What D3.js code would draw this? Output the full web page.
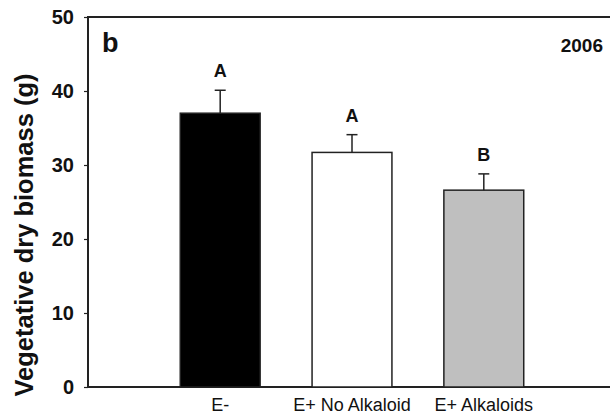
<!DOCTYPE html>
<html>
<head>
<meta charset="utf-8">
<script src="https://cdn.jsdelivr.net/npm/d3@7"></script>
<style>
  body { margin: 0; background: #fff; }
  svg { display: block; font-family: "Liberation Sans", Arial, sans-serif; }
</style>
</head>
<body>
<script>
var categories = ["E-", "E+ No Alkaloid", "E+ Alkaloids"];
var biomass = [37.0, 31.7, 26.6];
var stdErr = [3.1, 2.4, 2.2];
var groups = ["A", "A", "B"];
var barFill = ["#000000", "#ffffff", "#bfbfbf"];
var yTicks = [0, 10, 20, 30, 40, 50];

var w = 610;
var h = 416;

var svg = d3.select("body").append("svg")
  .attr("width", w)
  .attr("height", h);

var x = d3.scaleBand()
  .domain(categories)
  .range([88, 616])
  .paddingInner(0.394)
  .paddingOuter(0.70);

var y = d3.scaleLinear()
  .domain([0, 50])
  .range([387, 17]);

// frame (right side runs off the picture)
svg.append("rect")
  .attr("x", 88)
  .attr("y", y(50))
  .attr("width", 616 - 88)
  .attr("height", y(0) - y(50))
  .style("fill", "none")
  .style("stroke", "#222")
  .style("stroke-width", 2);

svg.selectAll("rect.bar")
  .data(biomass)
  .enter().append("rect")
  .attr("class", "bar")
  .attr("x", function(d, i) { return x(categories[i]); })
  .attr("y", function(d) { return y(d); })
  .attr("width", x.bandwidth())
  .attr("height", function(d) { return y(0) - y(d); })
  .style("fill", function(d, i) { return barFill[i]; })
  .style("stroke", "#222")
  .style("stroke-width", 1.5);

// error bars (upper only)
svg.selectAll("line.err")
  .data(biomass)
  .enter().append("line")
  .attr("class", "err")
  .attr("x1", function(d, i) { return x(categories[i]) + x.bandwidth() / 2; })
  .attr("x2", function(d, i) { return x(categories[i]) + x.bandwidth() / 2; })
  .attr("y1", function(d) { return y(d); })
  .attr("y2", function(d, i) { return y(d + stdErr[i]); })
  .style("stroke", "#222")
  .style("stroke-width", 1.5);

svg.selectAll("line.cap")
  .data(biomass)
  .enter().append("line")
  .attr("class", "cap")
  .attr("x1", function(d, i) { return x(categories[i]) + x.bandwidth() / 2 - 5.5; })
  .attr("x2", function(d, i) { return x(categories[i]) + x.bandwidth() / 2 + 5.5; })
  .attr("y1", function(d, i) { return y(d + stdErr[i]); })
  .attr("y2", function(d, i) { return y(d + stdErr[i]); })
  .style("stroke", "#222")
  .style("stroke-width", 1.5);

svg.selectAll("text.grp")
  .data(groups)
  .enter().append("text")
  .attr("class", "grp")
  .attr("x", function(d, i) { return x(categories[i]) + x.bandwidth() / 2; })
  .attr("y", function(d, i) { return y(biomass[i] + stdErr[i]) - 13; })
  .attr("text-anchor", "middle")
  .style("font-size", "18px")
  .style("font-weight", "bold")
  .style("fill", "#111")
  .text(function(d) { return d; });

// y axis
var yAxis = svg.append("g")
  .attr("transform", "translate(88,0)")
  .call(d3.axisLeft(y).tickValues(yTicks).tickSize(4).tickPadding(10));
yAxis.select(".domain").remove();
yAxis.selectAll("line").style("stroke", "#222").style("stroke-width", 1.2);
yAxis.selectAll("text")
  .style("font-family", "Liberation Sans, Arial, sans-serif")
  .style("font-size", "20px")
  .style("font-weight", "bold")
  .style("fill", "#111");

// x labels
svg.selectAll("text.cat")
  .data(categories)
  .enter().append("text")
  .attr("class", "cat")
  .attr("x", function(d) { return x(d) + x.bandwidth() / 2; })
  .attr("y", 411)
  .attr("text-anchor", "middle")
  .style("font-size", "18px")
  .style("fill", "#111")
  .text(function(d) { return d; });

svg.append("text")
  .attr("transform", "translate(33,235) rotate(-90)")
  .attr("text-anchor", "middle")
  .style("font-size", "25.5px")
  .style("font-weight", "bold")
  .style("fill", "#111")
  .text("Vegetative dry biomass (g)");

svg.append("text")
  .attr("x", 102)
  .attr("y", 52)
  .style("font-size", "27px")
  .style("font-weight", "bold")
  .style("fill", "#111")
  .text("b");

svg.append("text")
  .attr("x", 603)
  .attr("y", 52)
  .attr("text-anchor", "end")
  .style("font-size", "19px")
  .style("font-weight", "bold")
  .style("fill", "#111")
  .text("2006");
</script>
</body>
</html>
